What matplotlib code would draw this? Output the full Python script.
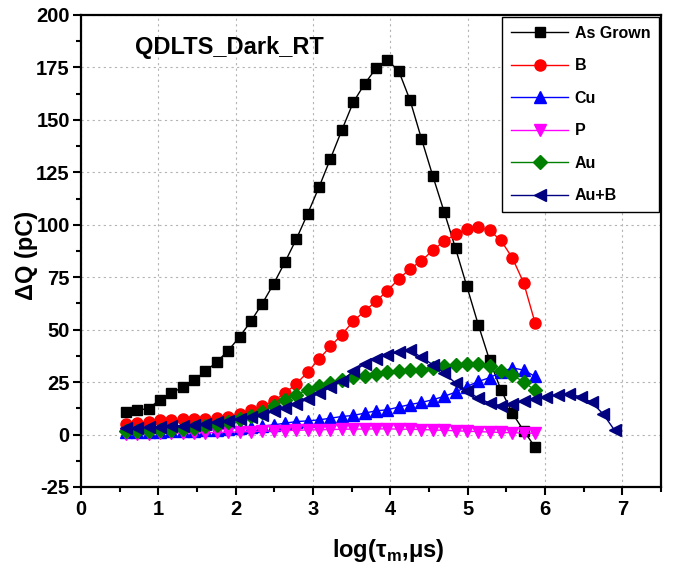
import matplotlib
matplotlib.use("Agg")
import matplotlib.pyplot as plt
from matplotlib.ticker import MultipleLocator

plt.rcParams['font.family'] = ['Liberation Sans', 'DejaVu Sans']
plt.rcParams['font.weight'] = 'bold'
plt.rcParams['axes.unicode_minus'] = False

# log(tau_m) sampling grid (shared by all samples; Au+B extends further)
log_tau = [0.580, 0.727, 0.874, 1.021, 1.168, 1.315, 1.462, 1.609, 1.756, 1.903,
           2.050, 2.197, 2.344, 2.491, 2.638, 2.785, 2.932, 3.079, 3.226, 3.373,
           3.520, 3.667, 3.814, 3.961, 4.108, 4.255, 4.402, 4.549, 4.696, 4.843,
           4.990, 5.137, 5.284, 5.431, 5.578, 5.725, 5.872, 6.019, 6.166, 6.313,
           6.460, 6.607, 6.754, 6.901]

# Delta Q (pC) per sample
dq_as_grown = [10.8, 11.6, 12.4, 16.6, 19.6, 22.7, 26.0, 30.1, 34.6, 40.0,
               46.5, 54.0, 62.4, 71.8, 82.2, 93.2, 105.3, 118.0, 131.5, 145.1,
               158.3, 167.1, 174.5, 178.5, 173.4, 159.4, 141.1, 123.3, 106.2, 88.8,
               70.6, 52.4, 35.4, 21.3, 10.2, 1.8, -6.0]
dq_b = [4.9, 5.4, 6.2, 6.7, 7.0, 7.3, 7.3, 7.5, 7.8, 8.6,
        9.7, 11.5, 13.4, 16.1, 19.7, 24.2, 29.8, 36.0, 42.0, 47.6,
        54.0, 58.8, 63.5, 68.5, 74.1, 79.0, 82.8, 87.8, 92.2, 95.4,
        97.9, 98.9, 97.3, 92.5, 84.2, 72.3, 53.2]
dq_cu = [1.0, 1.1, 1.2, 1.3, 1.5, 1.7, 1.9, 2.1, 2.4, 2.7,
         3.1, 3.5, 4.0, 4.6, 5.4, 6.2, 6.5, 7.0, 7.8, 8.6,
         9.1, 10.2, 11.3, 11.8, 13.1, 14.3, 15.3, 16.6, 18.2, 20.2,
         22.9, 25.3, 27.1, 29.7, 31.8, 30.7, 27.7]
dq_p = [0.2, 0.3, 0.4, 0.5, 0.6, 0.7, 0.8, 0.9, 1.0, 1.1,
        1.3, 1.4, 1.6, 1.7, 1.9, 2.0, 2.2, 2.3, 2.4, 2.5,
        2.6, 2.6, 2.7, 2.7, 2.6, 2.5, 2.4, 2.2, 2.0, 1.8,
        1.6, 1.4, 1.2, 1.0, 0.9, 0.7, 0.6]
dq_au = [1.5, 1.7, 1.9, 2.1, 2.4, 2.8, 3.3, 3.9, 4.6, 5.8,
         7.3, 9.0, 10.8, 13.5, 16.5, 19.0, 21.3, 23.2, 24.8, 26.1,
         27.2, 28.1, 29.0, 29.8, 30.4, 30.7, 30.9, 31.7, 32.6, 33.1,
         33.4, 33.4, 32.7, 30.2, 28.3, 25.1, 21.1]
dq_au_b = [3.0, 3.2, 3.4, 3.7, 4.0, 4.3, 4.7, 5.2, 5.8, 6.5,
           7.3, 8.3, 9.5, 11.0, 12.6, 14.5, 17.0, 19.7, 22.5, 25.6,
           30.1, 33.6, 36.2, 38.1, 39.3, 40.1, 36.9, 33.3, 29.3, 24.5,
           20.8, 17.4, 15.0, 13.7, 14.5, 15.8, 16.8, 18.0, 19.0, 19.3,
           18.0, 15.3, 9.7, 2.0]

series = [
    ("As Grown", dq_as_grown, "#000000", "s", 7.0),
    ("B", dq_b, "#FF0000", "o", 8.0),
    ("Cu", dq_cu, "#0000FF", "^", 8.0),
    ("P", dq_p, "#FF00FF", "v", 8.0),
    ("Au", dq_au, "#008000", "D", 6.8),
    ("Au+B", dq_au_b, "#000080", "<", 8.0),
]

fig = plt.figure(figsize=(6.81, 5.67), dpi=100)
ax = fig.add_axes([0.1189, 0.1411, 0.8517, 0.8325])

for name, vals, col, mk, ms in series:
    ax.plot(log_tau[:len(vals)], vals, color=col, lw=1.0, marker=mk, ms=ms,
            mec=col, mfc=col, label=name)

ax.set_xlim(0, 7.5)
ax.set_ylim(-25, 200)
ax.xaxis.set_major_locator(MultipleLocator(1))
ax.xaxis.set_minor_locator(MultipleLocator(0.5))
ax.yaxis.set_major_locator(MultipleLocator(25))
ax.yaxis.set_minor_locator(MultipleLocator(12.5))
ax.tick_params(which='both', direction='out', top=False, right=False,
               width=1.5, labelsize=14.5)
ax.tick_params(which='major', length=6)
ax.tick_params(which='minor', length=3.5)
ax.tick_params(axis='y', which='major', pad=2)
for sp in ax.spines.values():
    sp.set_linewidth(1.6)

ax.grid(True, which='major', color='#b4b4b4', linestyle=(0, (2, 3)), lw=0.8)
ax.set_axisbelow(True)

ax.set_xlabel('log(τ$_\\mathregular{m}$,μs)', fontsize=17, fontweight='bold')
ax.xaxis.set_label_coords(0.529, -0.106)
ax.set_ylabel('ΔQ (pC)', fontsize=17, fontweight='bold')
ax.yaxis.set_label_coords(-0.074, 0.49)

ax.text(0.093, 0.932, 'QDLTS_Dark_RT', transform=ax.transAxes,
        fontsize=17, fontweight='bold', va='center', ha='left')

leg = ax.legend(loc='upper right', bbox_to_anchor=(0.997, 0.996),
                fancybox=False, framealpha=1, edgecolor='black',
                prop={'weight': 'bold', 'size': 11.5},
                handlelength=3.6, labelspacing=1.1, borderpad=0.55,
                handletextpad=0.4, borderaxespad=0)
leg.get_frame().set_linewidth(1.0)

fig.savefig('out.png', dpi=100)
